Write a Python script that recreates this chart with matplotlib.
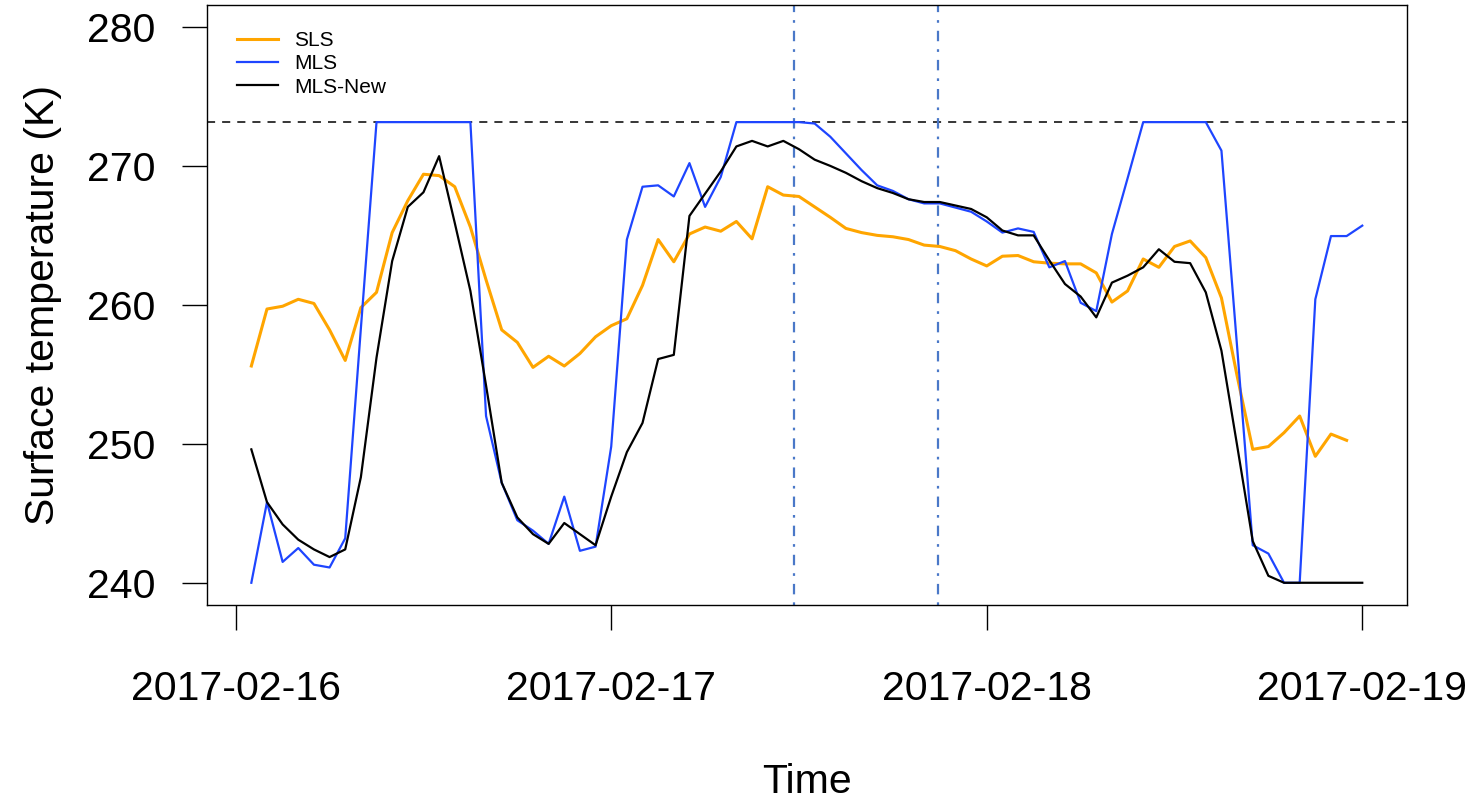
import matplotlib
matplotlib.use("Agg")
import matplotlib.pyplot as plt
import matplotlib.dates as mdates
import pandas as pd
import numpy as np

plt.rcParams['font.family'] = ['Liberation Sans', 'DejaVu Sans']

# ---- data (hourly, starting 2017-02-16 01:00) ----
sls = [255.6, 259.7, 259.9, 260.4, 260.1, 258.2, 256.0, 259.8, 260.9, 265.2,
       267.5, 269.4, 269.3, 268.5, 265.6, 261.8, 258.2, 257.3, 255.5, 256.3,
       255.6, 256.5, 257.7, 258.5, 259.0, 261.4, 264.7, 263.1, 265.1, 265.6,
       265.3, 266.0, 264.75, 268.5, 267.9, 267.8, 267.05, 266.3, 265.5, 265.2,
       265.0, 264.9, 264.7, 264.3, 264.2, 263.9, 263.3, 262.8, 263.5, 263.55,
       263.1, 263.0, 262.95, 262.95, 262.3, 260.2, 261.0, 263.3, 262.7, 264.2,
       264.6, 263.4, 260.5, 254.9, 249.6, 249.8, 250.8, 252.0, 249.1, 250.7,
       250.25]
mls = [240.0, 245.8, 241.5, 242.5, 241.3, 241.1, 243.2, 258.3, 273.15, 273.15,
       273.15, 273.15, 273.15, 273.15, 273.15, 252.0, 247.2, 244.5, 243.75, 242.8,
       246.2, 242.3, 242.6, 249.8, 264.7, 268.5, 268.6, 267.8, 270.2, 267.05,
       269.2, 273.15, 273.15, 273.15, 273.15, 273.15, 273.05, 272.1, 270.9, 269.7,
       268.6, 268.2, 267.6, 267.3, 267.3, 267.0, 266.7, 266.0, 265.2, 265.5,
       265.25, 262.7, 263.15, 260.15, 259.55, 265.1, 269.1, 273.15, 273.15, 273.15,
       273.15, 273.15, 271.1, 257.0, 242.7, 242.1, 240.0, 240.0, 260.4, 264.95,
       264.95, 265.7]
mls_new = [249.6, 245.8, 244.2, 243.1, 242.4, 241.85, 242.4, 247.6, 256.2, 263.15,
           267.05, 268.1, 270.7, 265.9, 261.0, 254.2, 247.2, 244.7, 243.5, 242.8,
           244.3, 243.5, 242.7, 246.2, 249.4, 251.5, 256.1, 256.4, 266.4, 268.0,
           269.6, 271.4, 271.8, 271.4, 271.8, 271.2, 270.45, 270.0, 269.5, 268.9,
           268.4, 268.05, 267.6, 267.4, 267.4, 267.15, 266.9, 266.3, 265.35, 265.0,
           265.0, 263.2, 261.5, 260.6, 259.1, 261.6, 262.1, 262.7, 264.0, 263.1,
           263.0, 260.9, 256.7, 249.9, 243.0, 240.5, 240.0, 240.0, 240.0, 240.0,
           240.0, 240.0]
start_time = "2017-02-16 01:00"
freezing = 273.15
event_times = ["2017-02-17 11:42", "2017-02-17 20:54"]
tick_days = ["2017-02-16", "2017-02-17", "2017-02-18", "2017-02-19"]
y_ticks = [240, 250, 260, 270, 280]

t_sls = pd.date_range(start_time, periods=len(sls), freq="h")
t_mls = pd.date_range(start_time, periods=len(mls), freq="h")
t_new = pd.date_range(start_time, periods=len(mls_new), freq="h")

fig = plt.figure(figsize=(14.75, 7.99), dpi=100)
ax = fig.add_axes([206.7/1475, 1-605/799, 1200/1475, (605-4.7)/799])

ax.plot(t_sls, sls, color="#FFA500", lw=2.2, label="SLS", zorder=3)
ax.plot(t_mls, mls, color="#1E45FF", lw=1.6, label="MLS", zorder=3)
ax.plot(t_new, mls_new, color="black", lw=1.6, label="MLS-New", zorder=4)

ax.axhline(freezing, color="black", lw=1.1, linestyle=(0, (5.3, 4.6)), zorder=2)
for et in event_times:
    ax.axvline(pd.Timestamp(et), color="#4A78C8", lw=1.6,
               linestyle=(0, (1.2, 3.6, 4.7, 3.6)), zorder=2)

x0 = pd.Timestamp("2017-02-16") + pd.Timedelta(hours=-1.853)
x1 = pd.Timestamp("2017-02-16") + pd.Timedelta(hours=74.84)
ax.set_xlim(x0, x1)
ax.set_ylim(238.4, 281.6)

ax.set_xticks([pd.Timestamp(d) for d in tick_days])
ax.xaxis.set_major_formatter(mdates.DateFormatter("%Y-%m-%d"))
ax.set_yticks(y_ticks)
ax.tick_params(axis="both", direction="out", length=18, width=1.0,
               labelsize=29.5)
ax.tick_params(axis="y", pad=19)
ax.tick_params(axis="x", pad=28.5)
for s in ax.spines.values():
    s.set_linewidth(1.0)

ax.set_xlabel("Time", fontsize=29.5, labelpad=40)
ax.set_ylabel("Surface temperature (K)", fontsize=29.5, labelpad=18)

ax.legend(loc="upper left", bbox_to_anchor=(0.013, 0.98), frameon=False,
          fontsize=15, handlelength=1.95, handletextpad=0.8,
          labelspacing=0.2, borderaxespad=0.3)

fig.savefig("out.png", dpi=100)
